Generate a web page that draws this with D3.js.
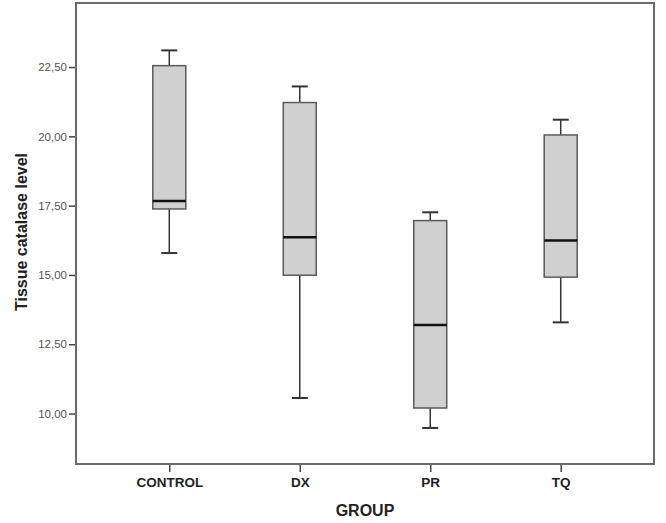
<!DOCTYPE html>
<html><head><meta charset="utf-8">
<script src="https://cdn.jsdelivr.net/npm/d3@7"></script>
<style>body{margin:0;background:#fff}</style>
</head><body>
<script>
const categories = ["CONTROL", "DX", "PR", "TQ"];
const whiskerLow  = [15.79, 10.56, 9.48, 13.29];
const q1          = [17.38, 14.99, 10.20, 14.92];
const median      = [17.67, 16.36, 13.19, 16.24];
const q3          = [22.55, 21.22, 16.96, 20.05];
const whiskerHigh = [23.10, 21.80, 17.26, 20.60];
const yTicks = [10, 12.5, 15, 17.5, 20, 22.5];
const yLabel = "Tissue catalase level";
const xLabel = "GROUP";

(function () {
const W = 666, H = 523;
const mLeft = 76, mRight = 654, mTop = 3, mBottom = 464;
const FONT = "Arial, 'Liberation Sans', sans-serif";
const svg = d3.select("body").append("svg").attr("width", W).attr("height", H);

const x = d3.scalePoint().domain(categories).range([mLeft, mRight]).padding(0.715);
const y = d3.scaleLinear().domain([8.18, 24.81]).range([mBottom, mTop]);

const fmt = v => d3.format(".2f")(v).replace(".", ",");

// y axis
const yAx = svg.append("g").attr("transform", `translate(${mLeft},0)`)
  .call(d3.axisLeft(y).tickValues(yTicks).tickSize(7).tickPadding(2).tickFormat(fmt));
yAx.select(".domain").remove();
yAx.selectAll("line").attr("stroke", "#444").attr("stroke-width", 1.5);
yAx.selectAll("text").attr("font-family", FONT).attr("font-size", 11.5).attr("fill", "#555");

// x axis
const xAx = svg.append("g").attr("transform", `translate(0,${mBottom})`)
  .call(d3.axisBottom(x).tickSize(8).tickPadding(5));
xAx.select(".domain").remove();
xAx.selectAll("line").attr("stroke", "#444").attr("stroke-width", 1.5);
xAx.selectAll("text").attr("font-family", FONT).attr("font-size", 13.5)
  .attr("font-weight", "bold").attr("fill", "#222");

// frame
svg.append("rect").attr("x", mLeft).attr("y", mTop).attr("width", mRight - mLeft).attr("height", mBottom - mTop)
  .attr("fill", "none").attr("stroke", "#6a6a6a").attr("stroke-width", 2);

const data = categories.map((c, i) => ({c, lo: whiskerLow[i], q1: q1[i], med: median[i], q3: q3[i], hi: whiskerHigh[i]}));
const bw = 33, cw = 16;
const g = svg.append("g").selectAll("g").data(data).join("g");
g.append("line").attr("x1", d => x(d.c)).attr("x2", d => x(d.c)).attr("y1", d => y(d.hi)).attr("y2", d => y(d.q3))
  .attr("stroke", "#333").attr("stroke-width", 1.5);
g.append("line").attr("x1", d => x(d.c)).attr("x2", d => x(d.c)).attr("y1", d => y(d.q1)).attr("y2", d => y(d.lo))
  .attr("stroke", "#333").attr("stroke-width", 1.5);
g.append("line").attr("x1", d => x(d.c) - cw/2).attr("x2", d => x(d.c) + cw/2).attr("y1", d => y(d.hi)).attr("y2", d => y(d.hi))
  .attr("stroke", "#333").attr("stroke-width", 2);
g.append("line").attr("x1", d => x(d.c) - cw/2).attr("x2", d => x(d.c) + cw/2).attr("y1", d => y(d.lo)).attr("y2", d => y(d.lo))
  .attr("stroke", "#333").attr("stroke-width", 2);
g.append("rect").attr("x", d => x(d.c) - bw/2).attr("width", bw)
  .attr("y", d => y(d.q3)).attr("height", d => y(d.q1) - y(d.q3))
  .attr("fill", "#d0d0d0").attr("stroke", "#5a5a5a").attr("stroke-width", 1.5);
g.append("line").attr("x1", d => x(d.c) - bw/2).attr("x2", d => x(d.c) + bw/2).attr("y1", d => y(d.med)).attr("y2", d => y(d.med))
  .attr("stroke", "#111").attr("stroke-width", 2.5);

svg.append("text").attr("transform", "translate(27,232) rotate(-90)").attr("text-anchor", "middle")
  .attr("font-family", FONT).attr("font-size", 16).attr("font-weight", "bold")
  .attr("fill", "#222").text(yLabel);
svg.append("text").attr("x", (mLeft + mRight) / 2).attr("y", 516).attr("text-anchor", "middle")
  .attr("font-family", FONT).attr("font-size", 16).attr("font-weight", "bold")
  .attr("fill", "#222").text(xLabel);
})();
</script>
</body></html>
